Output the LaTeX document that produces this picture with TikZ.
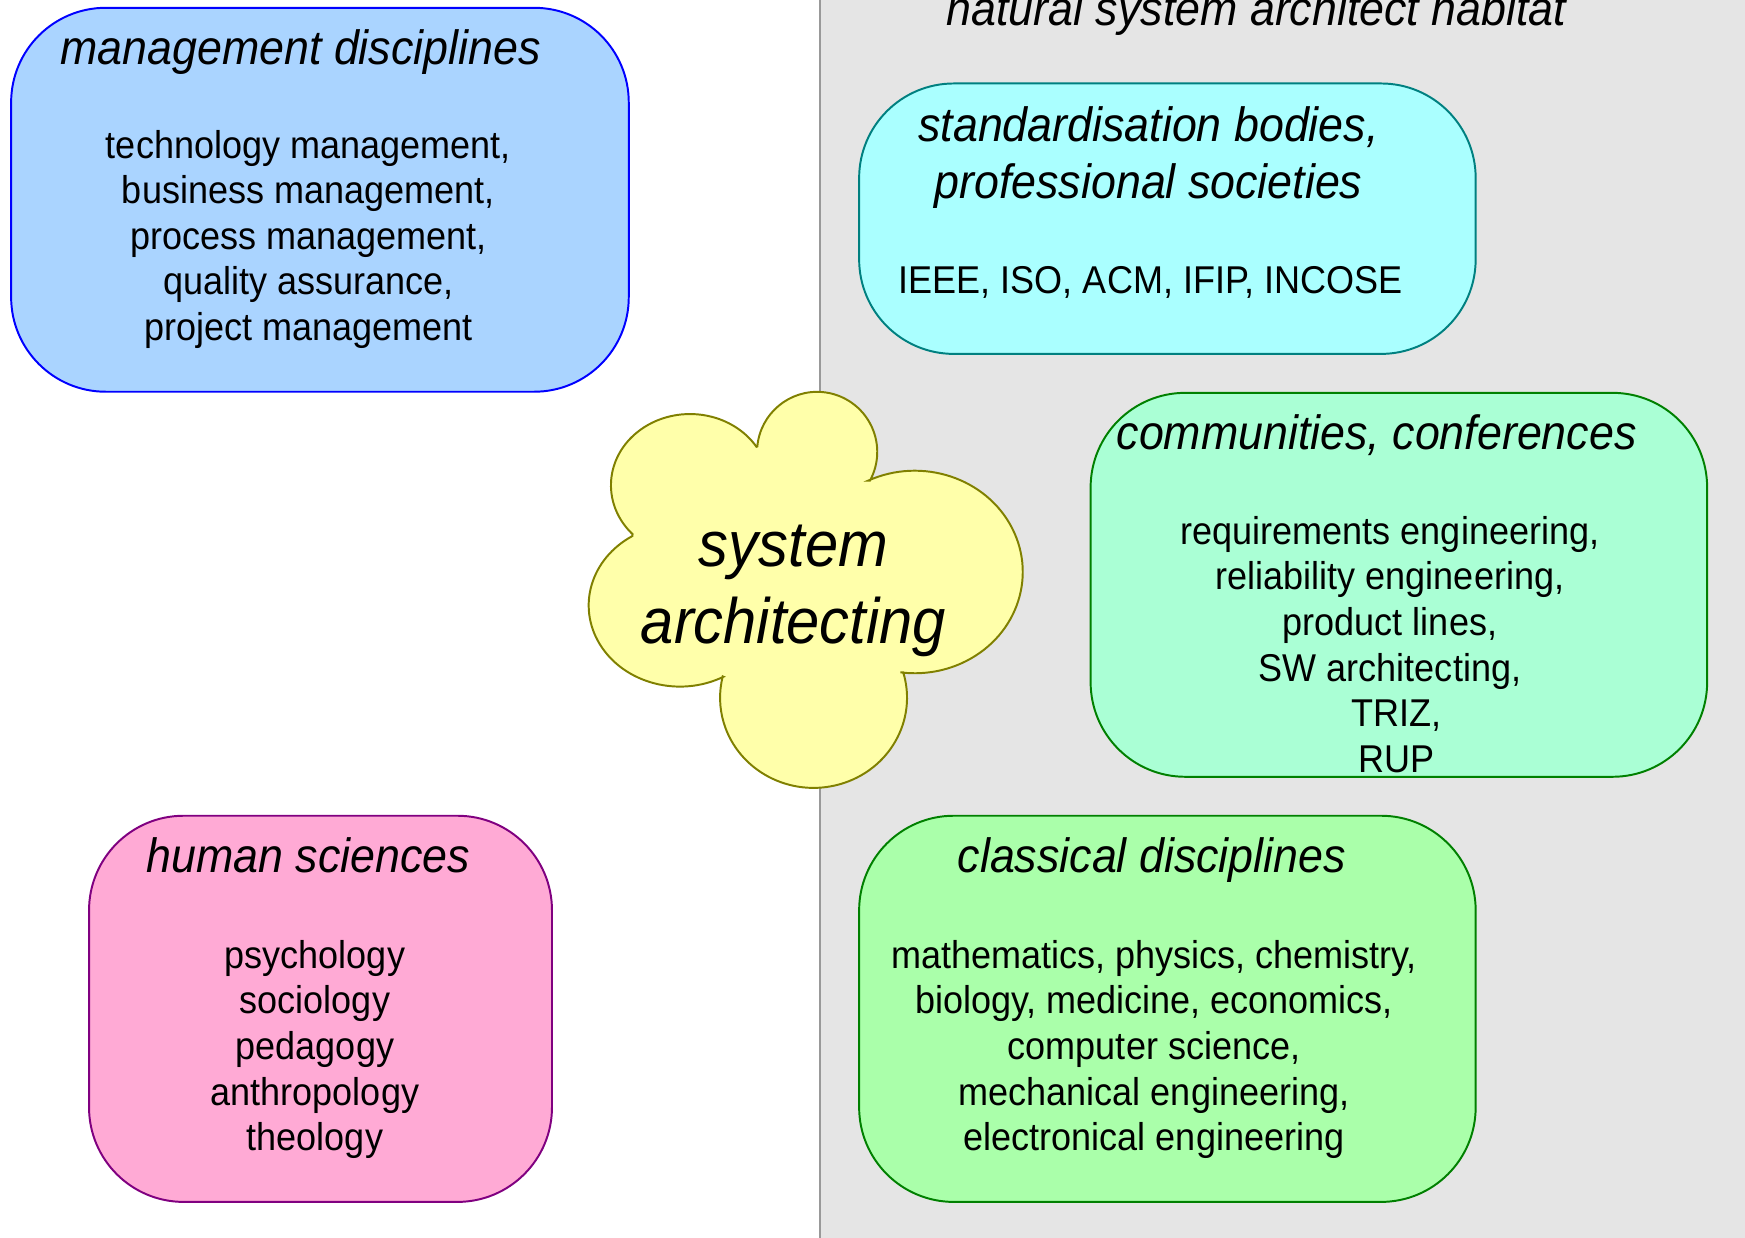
\documentclass[tikz,border=0pt]{standalone}
\usepackage{fontspec}
\setmainfont{Liberation Sans}[FakeStretch=0.93]
\definecolor{habfill}{HTML}{E5E5E5}
\definecolor{habline}{HTML}{999999}
\definecolor{mgmtfill}{HTML}{AAD4FF}
\definecolor{mgmtline}{HTML}{0000FF}
\definecolor{stdfill}{HTML}{AAFFFF}
\definecolor{stdline}{HTML}{008080}
\definecolor{commfill}{HTML}{AAFFD5}
\definecolor{commline}{HTML}{008000}
\definecolor{humfill}{HTML}{FFAAD5}
\definecolor{humline}{HTML}{800080}
\definecolor{clsfill}{HTML}{AAFFAA}
\definecolor{clsline}{HTML}{008000}
\definecolor{cloudfill}{HTML}{FFFFAA}
\definecolor{cloudline}{HTML}{808000}
\newcommand{\stk}[1]{\begin{tabular}[t]{@{}c@{}}#1\end{tabular}}
\begin{document}
\begin{tikzpicture}[x=0.01cm,y=-0.01cm,
  box/.style={draw, line width=0.5pt, rounded corners=0.85cm},
  ttl/.style={anchor=base, inner sep=0pt, font=\fontsize{12.3}{14.5}\selectfont\itshape},
  bdy/.style={anchor=base, inner sep=0pt, font=\fontsize{9.9}{11.66}\selectfont},
  bigttl/.style={anchor=base, inner sep=0pt, font=\fontsize{16.4}{19.6}\selectfont\itshape},
  cloudshape/.style={draw=cloudline, fill=cloudfill, line width=0.5pt},
]
\useasboundingbox (0,0) rectangle (1568,1112);
\clip (0,0) rectangle (1568,1112);
\fill[white] (0,0) rectangle (1568,1112);
% habitat region
\fill[habfill] (737,0) rectangle (1568,1112);
\draw[habline, line width=0.6pt] (737,0) -- (737,1112);
\node[ttl] (habitat) at (1129,23) {natural system architect habitat};

% boxes
\draw[box, draw=mgmtline, fill=mgmtfill] (10,7) rectangle (565,352);
\draw[box, draw=stdline, fill=stdfill] (772,75) rectangle (1326,318);
\draw[box, draw=commline, fill=commfill] (980,353) rectangle (1534,698);
\draw[box, draw=humline, fill=humfill] (80,733) rectangle (496,1080);
\draw[box, draw=clsline, fill=clsfill] (772,733) rectangle (1326,1080);

% texts
\node[ttl] (mgmtT) at (270,58) {management disciplines};
\node[bdy] (mgmtB) at (277,142) {\stk{technology management,\\business management,\\process management,\\quality assurance,\\project management}};

\node[ttl] (stdT) at (1032,127) {\stk{standardisation bodies,\\professional societies}};
\node[bdy] (stdB) at (1034,264) {IEEE, ISO, ACM, IFIP, INCOSE};

\node[ttl] (commT) at (1237,404) {communities, conferences};
\node[bdy] (commB) at (1249,489) {\stk{requirements engineering,\\reliability engineering,\\product lines,\\SW architecting,\\\hspace*{3.4pt}TRIZ,\\\hspace*{3.4pt}RUP}};

\node[ttl] (humT) at (277,784) {human sciences};
\node[bdy] (humB) at (283,870) {\stk{psychology\\sociology\\pedagogy\\anthropology\\theology}};

\node[ttl] (clsT) at (1035,784) {classical disciplines};
\node[bdy] (clsB) at (1037,870) {\stk{mathematics, physics, chemistry,\\biology, medicine, economics,\\computer science,\\mechanical engineering,\\electronical engineering}};

% cloud
\draw[cloudshape] (680.5,401.2)
  arc[start angle=185.2, end angle=388.6, radius=54]
  -- (780.1,431.9) arc[start angle=244.4, end angle=457.6, x radius=97, y radius=91]
  -- (811.6,604.1) arc[start angle=-16.4, end angle=193.7, x radius=84, y radius=81]
  -- (650.1,608.1) arc[start angle=61.5, end angle=238.6, x radius=82, y radius=73]
  -- (568.4,480.0) arc[start angle=136.6, end angle=327.3, x radius=71, y radius=64]
  -- cycle;
\node[bigttl] (sa) at (713,509) {\stk{system\\architecting}};
\end{tikzpicture}
\end{document}
